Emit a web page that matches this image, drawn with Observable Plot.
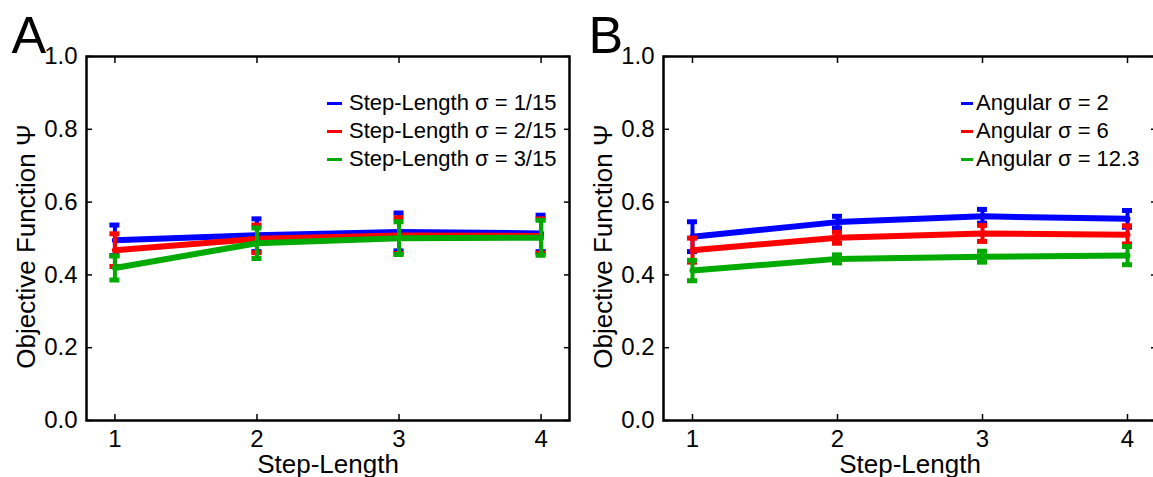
<!DOCTYPE html>
<html><head><meta charset="utf-8">
<script src="https://cdn.jsdelivr.net/npm/d3@7"></script>
<script src="https://cdn.jsdelivr.net/npm/@observablehq/plot@0.6"></script>
<style>
html,body{margin:0;padding:0;background:#fff;overflow:hidden;}
#wrap{display:flex;width:1170px;height:477px;}
.panel{position:relative;flex:none;}
.legend{position:absolute;font-family:"Liberation Sans",Arial,sans-serif;font-size:22px;color:#000;}
.legend .row{display:flex;align-items:center;height:28px;white-space:nowrap;}
.legend .sw{display:inline-block;height:3px;flex:none;}
</style></head><body><div id="wrap"></div>
<script>
// ---- data ----
const steps = [1, 2, 3, 4];
const xTicks = [1, 2, 3, 4];
const yTicks = [0, 0.2, 0.4, 0.6, 0.8, 1.0];
const colors = ["#0000ff", "#ff0000", "#00aa00"];

const namesA = ["Step-Length σ = 1/15", "Step-Length σ = 2/15", "Step-Length σ = 3/15"];
const meanA_blue  = [0.495, 0.509, 0.518, 0.514];
const errA_blue   = [0.042, 0.045, 0.052, 0.050];
const meanA_red   = [0.468, 0.499, 0.508, 0.507];
const errA_red    = [0.045, 0.038, 0.049, 0.047];
const meanA_green = [0.419, 0.487, 0.501, 0.502];
const errA_green  = [0.033, 0.042, 0.045, 0.048];

const namesB = ["Angular σ = 2", "Angular σ = 6", "Angular σ = 12.3"];
const meanB_blue  = [0.505, 0.545, 0.561, 0.554];
const errB_blue   = [0.041, 0.016, 0.019, 0.023];
const meanB_red   = [0.468, 0.502, 0.514, 0.510];
const errB_red    = [0.033, 0.015, 0.022, 0.025];
const meanB_green = [0.412, 0.444, 0.450, 0.453];
const errB_green  = [0.028, 0.011, 0.015, 0.025];

const xLabel = "Step-Length";
const yLabel = "Objective Function Ψ";

function rows(mean, err) {
  return steps.map((x, i) => ({x, mean: mean[i], lo: mean[i] - err[i], hi: mean[i] + err[i]}));
}

const sans = '"Liberation Sans",Arial,sans-serif';

function panel({letter, names, series, width, marginLeft, marginRight, legendLeft, swatchW, swatchGap}) {
  const seriesMarks = series.flatMap((s, k) => {
    const d = rows(s[0], s[1]);
    const c = colors[k];
    return [
      Plot.ruleX(d, {x: "x", y1: "lo", y2: "hi", stroke: c, strokeWidth: 4}),
      Plot.ruleY(d, {y: "hi", x1: "x", x2: "x", insetLeft: -5, insetRight: -5, stroke: c, strokeWidth: 5}),
      Plot.ruleY(d, {y: "lo", x1: "x", x2: "x", insetLeft: -5, insetRight: -5, stroke: c, strokeWidth: 5}),
      Plot.line(d, {x: "x", y: "mean", stroke: c, strokeWidth: 6, strokeLinejoin: "round"})
    ];
  });
  const chart = Plot.plot({
    width, height: 477,
    marginLeft, marginRight, marginTop: 56, marginBottom: 57,
    x: {domain: [0.8, 4.2]},
    y: {domain: [0, 1]},
    style: {fontFamily: '"Liberation Sans Narrow","Liberation Sans",Arial,sans-serif', fontSize: "24px", color: "#000", background: "#fff", overflow: "visible"},
    marks: [
      ...seriesMarks,
      Plot.frame({stroke: "#000", strokeWidth: 2.5}),
      Plot.axisX({anchor: "bottom", ticks: xTicks, tickSize: -6, tickPadding: 15, strokeWidth: 1.5, tickFormat: d3.format("d"), label: null}),
      Plot.axisX({anchor: "top", ticks: xTicks, tickSize: -6, strokeWidth: 1.5, tickFormat: () => "", label: null}),
      Plot.axisY({anchor: "left", ticks: yTicks, tickSize: -6, tickPadding: 15, strokeWidth: 1.5, tickFormat: d3.format(".1f"), label: null}),
      Plot.axisY({anchor: "right", ticks: yTicks, tickSize: -6, strokeWidth: 1.5, tickFormat: () => "", label: null}),
      Plot.text([xLabel], {frameAnchor: "bottom", textAnchor: "middle", dy: 52, lineAnchor: "bottom", fontSize: 26, fontFamily: sans}),
      Plot.text([yLabel], {frameAnchor: "left", textAnchor: "middle", rotate: -90, dx: -52, dy: 8, lineAnchor: "bottom", fontSize: 26, fontFamily: sans}),
      Plot.text([letter], {frameAnchor: "top-left", dx: -(marginLeft - 11), dy: -4, textAnchor: "start", lineAnchor: "bottom", fontSize: 52, fontFamily: sans})
    ]
  });
  const div = document.createElement("div");
  div.className = "panel";
  div.style.width = width + "px";
  div.appendChild(chart);
  const leg = document.createElement("div");
  leg.className = "legend";
  leg.style.left = legendLeft + "px";
  leg.style.top = "89px";
  names.forEach((n, k) => {
    const r = document.createElement("div");
    r.className = "row";
    const sw = document.createElement("span");
    sw.className = "sw";
    sw.style.width = swatchW + "px";
    sw.style.marginRight = swatchGap + "px";
    sw.style.background = colors[k];
    const t = document.createElement("span");
    t.textContent = n;
    r.appendChild(sw); r.appendChild(t);
    leg.appendChild(r);
  });
  div.appendChild(leg);
  return div;
}

const wrap = document.getElementById("wrap");
wrap.appendChild(panel({
  letter: "A", names: namesA,
  series: [[meanA_blue, errA_blue], [meanA_red, errA_red], [meanA_green, errA_green]],
  width: 577, marginLeft: 86, marginRight: 8, legendLeft: 327, swatchW: 15, swatchGap: 7
}));
wrap.appendChild(panel({
  letter: "B", names: namesB,
  series: [[meanB_blue, errB_blue], [meanB_red, errB_red], [meanB_green, errB_green]],
  width: 587, marginLeft: 86, marginRight: 8, legendLeft: 384, swatchW: 12, swatchGap: 3
}));
</script></body></html>
